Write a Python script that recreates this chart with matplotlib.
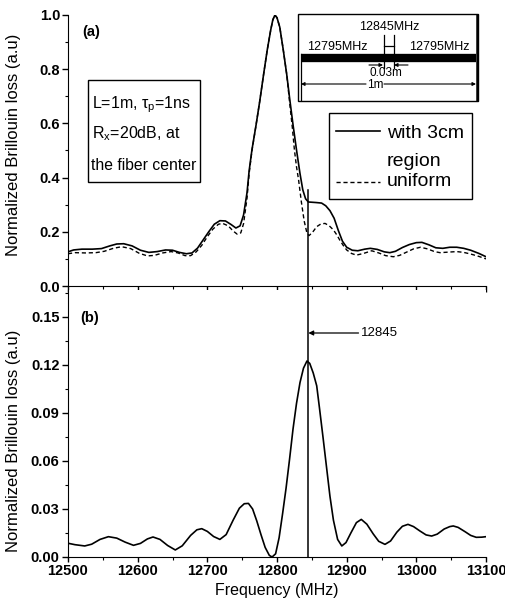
import matplotlib
matplotlib.use("Agg")
import matplotlib.pyplot as plt
from matplotlib.lines import Line2D
from matplotlib.patches import Rectangle
from matplotlib.ticker import MultipleLocator

plt.rcParams['font.family'] = ['Liberation Sans', 'DejaVu Sans']
plt.rcParams['mathtext.fontset'] = 'custom'
plt.rcParams['mathtext.rm'] = 'Liberation Sans'
plt.rcParams['mathtext.it'] = 'Liberation Sans:italic'

# ---------------- data ----------------
# (a) with a 3 cm region of 12845 MHz in the fiber centre
freq_a_solid = [12500, 12508, 12520, 12535, 12548, 12560, 12570, 12580, 12592, 12604,
                12616, 12628, 12640, 12650, 12660, 12670, 12678, 12686, 12694, 12702,
                12710, 12718, 12726, 12734, 12741, 12747, 12752, 12757, 12760, 12764,
                12770, 12775, 12781, 12786, 12791, 12794, 12797, 12800, 12804, 12809,
                12814, 12818, 12823, 12828, 12833, 12837, 12841, 12845, 12856, 12864,
                12870, 12876, 12882, 12888, 12894, 12900, 12908, 12916, 12926, 12934,
                12944, 12954, 12962, 12970, 12980, 12990, 13000, 13008, 13018, 13028,
                13038, 13048, 13058, 13068, 13078, 13090, 13100]
loss_a_solid = [0.126, 0.133, 0.136, 0.136, 0.138, 0.148, 0.155, 0.156, 0.148, 0.132,
                0.124, 0.127, 0.133, 0.132, 0.124, 0.119, 0.122, 0.140, 0.170, 0.200,
                0.228, 0.241, 0.240, 0.227, 0.214, 0.222, 0.262, 0.345, 0.425, 0.502,
                0.595, 0.678, 0.785, 0.871, 0.945, 0.982, 1.000, 0.990, 0.955, 0.871,
                0.780, 0.695, 0.595, 0.502, 0.415, 0.355, 0.322, 0.310, 0.308, 0.306,
                0.296, 0.278, 0.250, 0.205, 0.165, 0.143, 0.132, 0.130, 0.136, 0.139,
                0.135, 0.126, 0.123, 0.128, 0.142, 0.153, 0.160, 0.161, 0.152, 0.141,
                0.139, 0.143, 0.143, 0.139, 0.132, 0.120, 0.108]

# (a) uniform fiber
freq_a_uniform = [12500, 12510, 12525, 12540, 12552, 12565, 12577, 12590, 12602, 12614,
                  12624, 12636, 12648, 12658, 12668, 12676, 12684, 12692, 12700, 12708,
                  12716, 12722, 12730, 12737, 12743, 12748, 12752, 12757, 12760, 12764,
                  12770, 12775, 12781, 12786, 12791, 12794, 12797, 12800, 12804, 12809,
                  12814, 12818, 12822, 12825, 12828, 12831, 12835, 12839, 12843, 12846,
                  12851, 12857, 12863, 12869, 12875, 12881, 12886, 12890, 12895, 12900,
                  12907, 12914, 12924, 12936, 12946, 12956, 12967, 12976, 12986, 12996,
                  13006, 13016, 13026, 13034, 13046, 13058, 13068, 13078, 13090, 13100]
loss_a_uniform = [0.119, 0.123, 0.122, 0.123, 0.128, 0.139, 0.145, 0.138, 0.121, 0.111,
                  0.113, 0.122, 0.127, 0.122, 0.112, 0.112, 0.126, 0.150, 0.182, 0.210,
                  0.228, 0.231, 0.222, 0.203, 0.191, 0.196, 0.230, 0.325, 0.415, 0.498,
                  0.595, 0.678, 0.785, 0.871, 0.945, 0.982, 1.000, 0.990, 0.955, 0.871,
                  0.780, 0.680, 0.585, 0.502, 0.440, 0.391, 0.310, 0.240, 0.195, 0.186,
                  0.198, 0.219, 0.229, 0.231, 0.222, 0.207, 0.188, 0.170, 0.150, 0.133,
                  0.120, 0.114, 0.120, 0.130, 0.122, 0.112, 0.108, 0.113, 0.125, 0.137,
                  0.143, 0.137, 0.127, 0.123, 0.125, 0.127, 0.124, 0.118, 0.109, 0.100]

# (b) difference / local spectrum
freq_b = [12500, 12510, 12524, 12534, 12546, 12558, 12570, 12582, 12594, 12604,
          12614, 12622, 12632, 12643, 12654, 12664, 12676, 12685, 12692, 12700,
          12709, 12718, 12727, 12737, 12746, 12753, 12759, 12765, 12771, 12777,
          12783, 12789, 12793, 12798, 12803, 12808, 12813, 12818, 12823, 12828,
          12833, 12838, 12843, 12847, 12852, 12857, 12861, 12866, 12871, 12876,
          12881, 12887, 12893, 12899, 12906, 12914, 12921, 12929, 12938, 12946,
          12955, 12963, 12972, 12980, 12988, 12996, 13005, 13014, 13022, 13030,
          13040, 13048, 13053, 13060, 13070, 13078, 13086, 13094, 13100]
loss_b = [0.0086, 0.0077, 0.0069, 0.0080, 0.0110, 0.0127, 0.0118, 0.0093, 0.0073, 0.0085,
          0.0113, 0.0125, 0.0110, 0.0072, 0.0044, 0.0070, 0.0135, 0.0170, 0.0177, 0.0160,
          0.0128, 0.0110, 0.0140, 0.0230, 0.0305, 0.0333, 0.0335, 0.0300, 0.0225, 0.0140,
          0.0060, 0.0010, 0.0000, 0.0020, 0.0120, 0.0270, 0.0430, 0.0610, 0.0800, 0.0960,
          0.1090, 0.1180, 0.1225, 0.1210, 0.1150, 0.1070, 0.0930, 0.0750, 0.0565, 0.0380,
          0.0230, 0.0110, 0.0069, 0.0090, 0.0150, 0.0215, 0.0235, 0.0205, 0.0145, 0.0098,
          0.0079, 0.0100, 0.0155, 0.0192, 0.0204, 0.0190, 0.0163, 0.0138, 0.0131, 0.0143,
          0.0175, 0.0190, 0.0194, 0.0185, 0.0158, 0.0135, 0.0123, 0.0124, 0.0127]

marker_freq = 12845
x_ticks = [12500, 12600, 12700, 12800, 12900, 13000, 13100]
y_ticks_a = [0.0, 0.2, 0.4, 0.6, 0.8, 1.0]
y_labels_a = ['0.0', '0.2', '0.4', '0.6', '0.8', '1.0']
y_ticks_b = [0.0, 0.03, 0.06, 0.09, 0.12, 0.15]
y_labels_b = ['0.00', '0.03', '0.06', '0.09', '0.12', '0.15']

W, H = 505, 601


def fx(x):
    return x / W


def fy(y):
    return 1 - y / H


def fline(fig, xs, ys, **kw):
    fig.add_artist(Line2D([fx(v) for v in xs], [fy(v) for v in ys],
                          transform=fig.transFigure, color='black', **kw))


fig = plt.figure(figsize=(5.05, 6.01), dpi=100)
ax1 = fig.add_axes([fx(68), fy(286), 418 / W, 271 / H])
ax2 = fig.add_axes([fx(68), fy(557), 418 / W, 267 / H])

ax1.plot(freq_a_solid, loss_a_solid, color='black', lw=1.2)
ax1.plot(freq_a_uniform, loss_a_uniform, color='black', lw=1.0, linestyle=(0, (3, 2)))
ax2.plot(freq_b, loss_b, color='black', lw=1.2)

ax1.set_xlim(12500, 13100)
ax1.set_ylim(0, 1.0)
ax2.set_xlim(12500, 13100)
ax2.set_ylim(0, 0.166875)

ax1.set_yticks(y_ticks_a)
ax1.set_yticklabels(y_labels_a)
ax1.yaxis.set_minor_locator(MultipleLocator(0.1))
ax2.set_yticks(y_ticks_b)
ax2.set_yticklabels(y_labels_b)
ax2.yaxis.set_minor_locator(MultipleLocator(0.015))

for ax in (ax1, ax2):
    ax.spines['top'].set_visible(False)
    ax.spines['right'].set_visible(False)
    ax.set_xticks(x_ticks)
    ax.set_xticklabels([str(t) for t in x_ticks])
    ax.xaxis.set_minor_locator(MultipleLocator(50))
    ax.tick_params(which='major', direction='out', length=4, width=1, pad=1.5)
    ax.tick_params(which='minor', direction='out', length=2.5, width=0.8)
    for lab in ax.get_xticklabels() + ax.get_yticklabels():
        lab.set_fontweight('bold')
        lab.set_fontsize(10.5)

ax1.tick_params(axis='x', labelbottom=False)
ax2.tick_params(axis='x', which='major', length=3.5, pad=1.8)
ax2.tick_params(axis='y', which='major', pad=2.2)

ax1.set_ylabel('Normalized Brillouin loss (a.u)', fontsize=12)
ax1.yaxis.set_label_coords((21 - 68) / 418, (286 - 145) / 271)
ax2.set_ylabel('Normalized Brillouin loss (a.u)', fontsize=12)
ax2.yaxis.set_label_coords((21 - 68) / 418, (557 - 441) / 267)
ax2.set_xlabel('Frequency (MHz)', fontsize=11.5)
ax2.xaxis.set_label_coords(0.5, (557 - 583) / 267)

# vertical marker through both panels
ax1.axvline(marker_freq, ymin=-4 / 271, ymax=0.355, color='black', lw=1.1, clip_on=False)
ax2.axvline(marker_freq, color='black', lw=1.1)
ax2.annotate('', xy=(marker_freq, 0.14), xytext=(12917, 0.14),
             arrowprops=dict(arrowstyle='-|>', color='black', lw=0.9,
                             mutation_scale=7, shrinkA=0, shrinkB=0))
ax2.text(12920, 0.14, '12845', fontsize=9.5, va='center', ha='left')

ax1.text(fx(82), fy(32), '(a)', transform=fig.transFigure, fontsize=10.5,
         fontweight='bold', va='center')
ax2.text(fx(80), fy(318), '(b)', transform=fig.transFigure, fontsize=10.5,
         fontweight='bold', va='center')

# parameter box
fig.add_artist(Rectangle((fx(88), fy(182)), 112 / W, 102 / H, transform=fig.transFigure,
                         facecolor='white', edgecolor='black', lw=1))
fig.text(fx(92), fy(108), r'L=1m, $\mathregular{\tau_p}$=1ns', fontsize=11.5, va='baseline')
fig.text(fx(92), fy(138), r'$\mathregular{R_x}$=20dB, at', fontsize=11.5, va='baseline')
fig.text(fx(91), fy(170), 'the fiber center', fontsize=11.3, va='baseline')

# legend
fig.add_artist(Rectangle((fx(329), fy(199)), 143 / W, 86 / H, transform=fig.transFigure,
                         facecolor='white', edgecolor='black', lw=1))
fline(fig, [336, 380], [131, 131], lw=1.2)
fline(fig, [336, 380], [182.5, 182.5], lw=1.0, linestyle=(0, (3, 2)))
fig.text(fx(387), fy(138), 'with 3cm', fontsize=14, va='baseline')
fig.text(fx(387), fy(166), 'region', fontsize=14, va='baseline')
fig.text(fx(387), fy(186), 'uniform', fontsize=14, va='baseline')

# fiber schematic inset
fig.add_artist(Rectangle((fx(298), fy(101)), 180 / W, 87 / H, transform=fig.transFigure,
                         facecolor='white', edgecolor='black', lw=1))
fline(fig, [301, 476], [57.5, 57.5], lw=6, solid_capstyle='butt')
fline(fig, [301, 301], [54, 100], lw=0.9)
fline(fig, [476.5, 476.5], [15, 100], lw=1.8)
fline(fig, [383.5, 383.5], [35, 68], lw=0.9)
fline(fig, [393.5, 393.5], [35, 68], lw=0.9)
fline(fig, [383.5, 393.5], [46, 46], lw=0.9)
fig.text(fx(389), fy(30), '12845MHz', fontsize=9, ha='center', va='baseline')
fig.text(fx(337), fy(50.5), '12795MHz', fontsize=9, ha='center', va='baseline')
fig.text(fx(439), fy(50.5), '12795MHz', fontsize=9, ha='center', va='baseline')
arrow_kw = dict(arrowstyle='-|>', color='black', lw=0.8, mutation_scale=5, shrinkA=0, shrinkB=0)
fig.add_artist(plt.annotate('', xy=(fx(383), fy(65)), xytext=(fx(369), fy(65)),
                            xycoords='figure fraction', arrowprops=arrow_kw))
fig.add_artist(plt.annotate('', xy=(fx(394), fy(65)), xytext=(fx(408), fy(65)),
                            xycoords='figure fraction', arrowprops=arrow_kw))
fig.text(fx(386), fy(76), '0.03m', fontsize=8.5, ha='center', va='baseline')
fig.add_artist(plt.annotate('', xy=(fx(301), fy(84)), xytext=(fx(366), fy(84)),
                            xycoords='figure fraction', arrowprops=arrow_kw))
fig.add_artist(plt.annotate('', xy=(fx(476), fy(84)), xytext=(fx(384), fy(84)),
                            xycoords='figure fraction', arrowprops=arrow_kw))
fig.text(fx(375), fy(88), '1m', fontsize=8.5, ha='center', va='baseline')

fig.savefig('out.png', dpi=100)
plt.close(fig)
